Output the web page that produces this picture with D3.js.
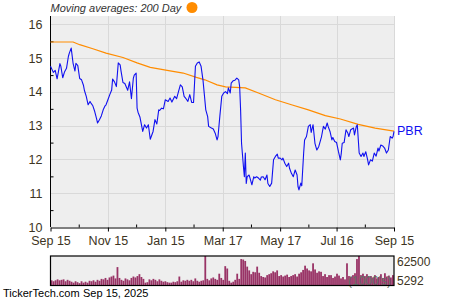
<!DOCTYPE html>
<html>
<head>
<meta charset="utf-8">
<script src="https://cdn.jsdelivr.net/npm/d3@7/dist/d3.min.js"></script>
<style>
    body { margin: 0; background: #fff; }
    svg { display: block; font-family: "Liberation Sans", Arial, sans-serif; }
</style>
</head>
<body>
<div id="chart"></div>
<script>
// Axis ticks
const tickDays = ['2024-09-15', '2024-11-15', '2025-01-15', '2025-03-17', '2025-05-17', '2025-07-16', '2025-09-15']
const tickLabels = ['Sep 15', 'Nov 15', 'Jan 15', 'Mar 17', 'May 17', 'Jul 16', 'Sep 15']
const minorTickDays = ['2024-10-15', '2024-12-15', '2025-02-14', '2025-04-16', '2025-06-16', '2025-08-15']
const priceTicks = [10, 11, 12, 13, 14, 15, 16]
const minorPriceTicks = [10.5, 11.5, 12.5, 13.5, 14.5, 15.5]

// [days since Sep 15 2024, close]
const closes = [[0,14.76],[3,14.58],[5,14.64],[7,14.39],[10,14.84],[11,14.76],[13,14.42],[15,14.6],[17,14.7],[19,15.05],
    [20,15.15],[22,15.3],[24,14.85],[26,14.62],[27,14.85],[29,14.78],[31,14.4],[33,14.36],[35,14.2],[36,14.05],
    [38,13.87],[40,13.62],[42,13.72],[43,13.67],[45,13.59],[47,13.42],[49,13.2],[50,13.08],[52,13.18],[54,13.29],
    [56,13.47],[58,13.59],[59,13.62],[61,13.77],[63,13.92],[65,14.06],[66,14.38],[68,14.3],[70,14.16],[72,14.86],
    [74,14.8],[75,14.61],[77,14.28],[79,14.25],[81,14.12],[82,14.05],[84,14.3],[86,13.8],[88,14.4],[89,14.5],
    [91,14.56],[92,13.52],[93,13.4],[95,13.26],[98,12.83],[100,13.03],[102,12.93],[104,13.03],[106,12.6],[109,12.83],
    [111,13.18],[113,13.05],[115,13.47],[116,13.45],[118,13.52],[120,13.5],[122,13.77],[125,13.72],[127,13.82],[129,13.7],
    [132,13.87],[134,13.8],[136,14.01],[138,14.21],[140,14.15],[142,13.87],[144,13.8],[146,13.72],[148,13.92],[150,13.69],
    [152,13.69],[154,14.76],[156,14.86],[158,14.89],[160,14.76],[162,14.36],[165,13.47],[167,13.27],[168,12.98],[171,12.93],
    [173,12.9],[175,12.78],[177,12.58],[178,12.68],[180,13.3],[182,13.87],[184,13.97],[186,14.01],[188,13.95],[189,14.12],
    [191,13.97],[192,14.26],[194,14.33],[196,14.35],[198,14.41],[200,14.36],[201,14.16],[202,13.47],[203,12.48],[205,11.79],
    [206,11.49],[207,12.19],[208,11.29],[209,11.49],[211,11.54],[212,11.45],[214,11.25],[216,11.49],[217,11.45],[219,11.49],
    [221,11.45],[223,11.39],[224,11.48],[226,11.49],[228,11.4],[230,11.54],[231,11.29],[233,11.2],[235,11.3],[237,11.99],
    [239,12.09],[241,12.16],[242,12.04],[244,12.04],[246,11.99],[247,12.04],[249,11.89],[251,11.79],[253,11.89],[254,11.74],
    [256,11.59],[258,11.49],[260,11.69],[262,11.54],[263,11.2],[264,11.1],[266,11.3],[267,11.22],[269,12.19],[270,12.58],
    [272,12.68],[274,12.98],[276,13.03],[277,12.8],[279,13.03],[281,12.48],[283,12.28],[285,12.38],[286,12.48],[288,12.68],
    [290,12.98],[292,12.9],[294,13.08],[295,12.98],[297,12.83],[299,12.58],[300,12.65],[302,12.53],[304,12.5],[306,12.23],
    [308,11.99],[309,12.19],[310,12.48],[312,12.5],[314,12.88],[316,12.78],[317,12.68],[319,12.88],[322,12.93],[323,12.73],
    [325,12.98],[326,13.03],[328,12.19],[330,12.09],[332,12.19],[333,12.09],[335,12.23],[337,11.99],[338,11.84],[340,11.99],
    [342,11.95],[344,12.19],[346,12.1],[348,12.34],[349,12.25],[351,12.43],[353,12.4],[355,12.34],[357,12.19],[359,12.28],
    [361,12.68],[363,12.63],[364,12.68],[365,12.83]]

const movingAvg200 = [[0,15.48],[24,15.48],[31,15.40],[45,15.28],[59,15.15],[77,15.02],[92,14.86],[106,14.73],[124,14.64],
    [141,14.56],[155,14.43],[164,14.36],[177,14.21],[186,14.15],[207,14.12],[221,13.97],[239,13.77],[256,13.62],
    [274,13.47],[292,13.3],[308,13.2],[327,13.04],[345,12.93],[365,12.84]]

// volume, thousands of shares
const volumes = [11, 9, 11, 13, 11, 12, 13, 9, 12, 10,
    8, 6, 9, 7, 5, 9, 6, 8, 6, 10,
    9, 11, 8, 12, 10, 14, 13, 16, 12, 17,
    19, 21, 15, 39, 16, 12, 10, 15, 13, 11,
    16, 19, 17, 20, 24, 18, 14, 6, 7, 13,
    11, 14, 12, 9, 13, 10, 8, 9, 7, 6,
    6, 8, 7, 9, 19, 8, 11, 10, 12, 10,
    12, 9, 15, 10, 8, 10, 11, 62.5, 14, 11,
    15, 17, 14, 12, 25, 16, 12, 41, 36, 10,
    6, 8, 12, 25, 14, 56, 55, 52, 40, 32,
    24, 29, 28, 40, 27, 20, 18, 17, 22, 24,
    26, 30, 28, 32, 20, 22, 19, 21, 23, 18,
    20, 22, 24, 19, 25, 28, 33, 42, 36, 32,
    30, 47, 34, 27, 30, 29, 20, 24, 18, 22,
    22, 16, 19, 25, 21, 15, 18, 13, 47, 20,
    18, 22, 26, 56, 62.5, 22, 25, 20, 24, 18,
    20, 17, 22, 15, 18, 24, 16, 26, 19, 21, 17, 22]
const volumeLabels = ['62500', '5292']

document.addEventListener('DOMContentLoaded', () => {
    const width = 450
    const height = 300
    const plotLeft = 50.5
    const plotRight = 394
    const plotTop = 16
    const plotBottom = 227
    const volTop = 256
    const volBottom = 285.5
    const textColour = '#3d3422'

    const parse = d3.timeParse('%Y-%m-%d')
    const start = parse(tickDays[0])
    const end = parse(tickDays[tickDays.length - 1])
    const dayToDate = d => d3.timeDay.offset(start, d)

    const svg = d3.select('#chart')
        .append('svg')
        .attr('width', width)
        .attr('height', height)

    const x = d3.scaleTime().domain([start, end]).range([plotLeft, plotRight])
    const y = d3.scaleLinear().domain([10, 16.25]).range([plotBottom, plotTop])

    // Price panel
    svg.append('rect')
        .attr('x', plotLeft).attr('y', plotTop)
        .attr('width', plotRight - plotLeft).attr('height', plotBottom - plotTop)
        .attr('fill', '#eeeeee')

    svg.append('g')
        .selectAll('line')
        .data(priceTicks.slice(1))
        .enter()
        .append('line')
        .attr('x1', plotLeft).attr('x2', plotRight)
        .attr('y1', d => Math.round(y(d)) + 0.5).attr('y2', d => Math.round(y(d)) + 0.5)
        .attr('stroke', '#d9d9d9')
    svg.append('g')
        .selectAll('line')
        .data(tickDays.slice(1))
        .enter()
        .append('line')
        .attr('x1', d => Math.round(x(parse(d))) + 0.5).attr('x2', d => Math.round(x(parse(d))) + 0.5)
        .attr('y1', plotTop).attr('y2', plotBottom)
        .attr('stroke', '#d9d9d9')

    const yAxis = svg.append('g')
        .attr('transform', `translate(${plotLeft}, 0)`)
        .call(d3.axisLeft(y).tickValues(priceTicks).tickSize(0).tickPadding(8).tickSizeOuter(0).tickFormat(d3.format('d')))
        .attr('font-family', null)
        .attr('font-size', 12.5)
    yAxis.select('.domain').attr('stroke', '#000').attr('d', `M0,${plotTop}V${plotBottom}`)
    yAxis.selectAll('text').attr('fill', textColour)
    svg.append('g')
        .attr('transform', `translate(${plotLeft}, 0)`)
        .call(d3.axisLeft(y).tickValues(minorPriceTicks).tickSize(-3).tickFormat(''))
        .call(g => g.select('.domain').remove())
        .selectAll('line').attr('stroke', '#000')

    const xAxis = svg.append('g')
        .attr('transform', `translate(0, ${plotBottom + 0.5})`)
        .call(d3.axisBottom(x).tickValues(tickDays.map(parse)).tickSize(4).tickPadding(5).tickSizeOuter(0)
            .tickFormat((d, i) => tickLabels[i]))
        .attr('font-family', null)
        .attr('font-size', 12.5)
    xAxis.select('.domain').attr('stroke', '#000')
    xAxis.selectAll('line').attr('stroke', '#000')
    xAxis.selectAll('text').attr('fill', textColour)
    svg.append('g')
        .attr('transform', `translate(0, ${plotBottom + 0.5})`)
        .call(d3.axisBottom(x).tickValues(minorTickDays.map(parse)).tickSize(-3).tickFormat(''))
        .call(g => g.select('.domain').remove())
        .selectAll('line').attr('stroke', '#000')

    // Lines
    const line = d3.line()
        .x(d => x(dayToDate(d[0])))
        .y(d => y(d[1]))
    svg.append('path')
        .datum(movingAvg200)
        .attr('d', line)
        .attr('fill', 'none')
        .attr('stroke', '#ff8c00')
        .attr('stroke-width', 1.2)
    svg.append('path')
        .datum(closes)
        .attr('d', line)
        .attr('fill', 'none')
        .attr('stroke', '#1010f0')
        .attr('stroke-width', 1.1)
        .attr('stroke-linejoin', 'round')

    const last = closes[closes.length - 1]
    svg.append('text')
        .attr('x', plotRight + 3)
        .attr('y', y(last[1]))
        .attr('dominant-baseline', 'middle')
        .attr('fill', '#1010f0')
        .attr('font-size', 12.5)
        .text('PBR')

    // Legend
    svg.append('text')
        .attr('x', plotLeft)
        .attr('y', 12)
        .attr('font-style', 'italic')
        .attr('font-size', 11)
        .attr('fill', '#333')
        .text('Moving averages: 200 Day')
    svg.append('circle')
        .attr('cx', 192).attr('cy', 7.5).attr('r', 5.5)
        .attr('fill', '#ff8c00')

    // Volume panel
    const xVol = d3.scaleBand().domain(d3.range(volumes.length)).range([plotLeft, plotRight]).padding(0.1)
    const yVol = d3.scaleLinear().domain([0, 62.5]).range([volBottom, volTop])
    svg.append('rect')
        .attr('x', plotLeft).attr('y', volTop)
        .attr('width', plotRight - plotLeft).attr('height', volBottom - volTop)
        .attr('fill', '#eeeeee')
    svg.append('g')
        .selectAll('rect')
        .data(volumes)
        .enter()
        .append('rect')
        .attr('x', (d, i) => xVol(i))
        .attr('width', xVol.bandwidth())
        .attr('y', d => yVol(d))
        .attr('height', d => volBottom - yVol(d))
        .attr('fill', '#993366')
    svg.append('text')
        .attr('x', plotRight - 3)
        .attr('y', volBottom - 1)
        .attr('text-anchor', 'end')
        .attr('font-size', 12)
        .attr('fill', '#617066')
        .text("(1000's)")
    svg.append('rect')
        .attr('x', plotLeft).attr('y', volTop)
        .attr('width', plotRight - plotLeft).attr('height', volBottom - volTop)
        .attr('fill', 'none')
        .attr('stroke', '#000')
        .attr('stroke-width', 1.2)
    svg.append('g')
        .selectAll('text')
        .data(volumeLabels)
        .enter()
        .append('text')
        .attr('x', plotRight + 3)
        .attr('y', (d, i) => i === 0 ? 266 : 285)
        .attr('font-size', 12)
        .attr('fill', textColour)
        .text(d => d)

    // Footer
    svg.append('text')
        .attr('x', 3).attr('y', 297)
        .attr('font-size', 11)
        .attr('fill', '#000')
        .text('TickerTech.com')
    svg.append('text')
        .attr('x', 83).attr('y', 297)
        .attr('font-size', 11)
        .attr('fill', '#000')
        .text('Sep 15, 2025')
})
</script>
</body>
</html>
